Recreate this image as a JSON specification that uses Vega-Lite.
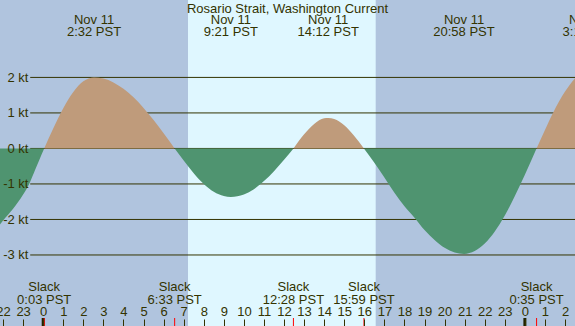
{
  "$schema": "https://vega.github.io/schema/vega-lite/v6.json",
  "width": 575,
  "height": 326,
  "autosize": "none",
  "padding": 0,
  "background": "#b0c4de",
  "title": {"text": "Rosario Strait, Washington Current", "font": "Liberation Sans", "fontSize": 13, "fontWeight": "normal", "color": "#333300", "offset": -16, "anchor": "middle", "frame": "group"},
  "config": {"view": {"fill": "#b0c4de", "stroke": null}, "axis": {"labelOverlap": false, "labelBound": false}},
  "datasets": {
    "curve": [
      {"t": -2.3, "v": -2.25, "seg": "a", "dir": "ebb"},
      {"t": -2.0, "v": -2.03, "seg": "a", "dir": "ebb"},
      {"t": -1.5, "v": -1.7, "seg": "a", "dir": "ebb"},
      {"t": -1.0, "v": -1.3, "seg": "a", "dir": "ebb"},
      {"t": -0.7, "v": -1.0, "seg": "a", "dir": "ebb"},
      {"t": -0.4, "v": -0.6, "seg": "a", "dir": "ebb"},
      {"t": -0.2, "v": -0.33, "seg": "a", "dir": "ebb"},
      {"t": 0.05, "v": 0, "seg": "a", "dir": "ebb"},
      {"t": 0.05, "v": 0, "seg": "b", "dir": "flood"},
      {"t": 0.5, "v": 0.56, "seg": "b", "dir": "flood"},
      {"t": 1.0, "v": 1.13, "seg": "b", "dir": "flood"},
      {"t": 1.5, "v": 1.59, "seg": "b", "dir": "flood"},
      {"t": 2.0, "v": 1.89, "seg": "b", "dir": "flood"},
      {"t": 2.53, "v": 2.0, "seg": "b", "dir": "flood"},
      {"t": 3.0, "v": 1.97, "seg": "b", "dir": "flood"},
      {"t": 3.5, "v": 1.86, "seg": "b", "dir": "flood"},
      {"t": 4.0, "v": 1.68, "seg": "b", "dir": "flood"},
      {"t": 4.5, "v": 1.44, "seg": "b", "dir": "flood"},
      {"t": 5.0, "v": 1.14, "seg": "b", "dir": "flood"},
      {"t": 5.5, "v": 0.8, "seg": "b", "dir": "flood"},
      {"t": 6.0, "v": 0.43, "seg": "b", "dir": "flood"},
      {"t": 6.55, "v": 0, "seg": "b", "dir": "flood"},
      {"t": 6.55, "v": 0, "seg": "c", "dir": "ebb"},
      {"t": 7.0, "v": -0.34, "seg": "c", "dir": "ebb"},
      {"t": 7.5, "v": -0.7, "seg": "c", "dir": "ebb"},
      {"t": 8.0, "v": -1.0, "seg": "c", "dir": "ebb"},
      {"t": 8.5, "v": -1.22, "seg": "c", "dir": "ebb"},
      {"t": 9.0, "v": -1.34, "seg": "c", "dir": "ebb"},
      {"t": 9.35, "v": -1.37, "seg": "c", "dir": "ebb"},
      {"t": 10.0, "v": -1.3, "seg": "c", "dir": "ebb"},
      {"t": 10.5, "v": -1.15, "seg": "c", "dir": "ebb"},
      {"t": 11.0, "v": -0.92, "seg": "c", "dir": "ebb"},
      {"t": 11.5, "v": -0.64, "seg": "c", "dir": "ebb"},
      {"t": 12.0, "v": -0.32, "seg": "c", "dir": "ebb"},
      {"t": 12.47, "v": 0, "seg": "c", "dir": "ebb"},
      {"t": 12.47, "v": 0, "seg": "d", "dir": "flood"},
      {"t": 13.0, "v": 0.4, "seg": "d", "dir": "flood"},
      {"t": 13.5, "v": 0.69, "seg": "d", "dir": "flood"},
      {"t": 14.0, "v": 0.85, "seg": "d", "dir": "flood"},
      {"t": 14.2, "v": 0.86, "seg": "d", "dir": "flood"},
      {"t": 14.5, "v": 0.83, "seg": "d", "dir": "flood"},
      {"t": 15.0, "v": 0.65, "seg": "d", "dir": "flood"},
      {"t": 15.5, "v": 0.35, "seg": "d", "dir": "flood"},
      {"t": 15.98, "v": 0, "seg": "d", "dir": "flood"},
      {"t": 15.98, "v": 0, "seg": "e", "dir": "ebb"},
      {"t": 16.5, "v": -0.4, "seg": "e", "dir": "ebb"},
      {"t": 17.0, "v": -0.82, "seg": "e", "dir": "ebb"},
      {"t": 17.5, "v": -1.25, "seg": "e", "dir": "ebb"},
      {"t": 18.0, "v": -1.63, "seg": "e", "dir": "ebb"},
      {"t": 18.5, "v": -1.95, "seg": "e", "dir": "ebb"},
      {"t": 19.0, "v": -2.3, "seg": "e", "dir": "ebb"},
      {"t": 19.5, "v": -2.58, "seg": "e", "dir": "ebb"},
      {"t": 20.0, "v": -2.8, "seg": "e", "dir": "ebb"},
      {"t": 20.5, "v": -2.93, "seg": "e", "dir": "ebb"},
      {"t": 20.97, "v": -2.97, "seg": "e", "dir": "ebb"},
      {"t": 21.5, "v": -2.89, "seg": "e", "dir": "ebb"},
      {"t": 22.0, "v": -2.68, "seg": "e", "dir": "ebb"},
      {"t": 22.5, "v": -2.34, "seg": "e", "dir": "ebb"},
      {"t": 23.0, "v": -1.89, "seg": "e", "dir": "ebb"},
      {"t": 23.5, "v": -1.34, "seg": "e", "dir": "ebb"},
      {"t": 24.0, "v": -0.74, "seg": "e", "dir": "ebb"},
      {"t": 24.58, "v": 0, "seg": "e", "dir": "ebb"},
      {"t": 24.58, "v": 0, "seg": "f", "dir": "flood"},
      {"t": 25.0, "v": 0.52, "seg": "f", "dir": "flood"},
      {"t": 25.4, "v": 1.0, "seg": "f", "dir": "flood"},
      {"t": 26.0, "v": 1.6, "seg": "f", "dir": "flood"},
      {"t": 26.6, "v": 2.05, "seg": "f", "dir": "flood"}
    ],
    "events": [
      {"t": 2.533, "kind": "max", "date": "Nov 11", "time": "2:32 PST"},
      {"t": 9.35, "kind": "max", "date": "Nov 11", "time": "9:21 PST"},
      {"t": 14.2, "kind": "max", "date": "Nov 11", "time": "14:12 PST"},
      {"t": 20.967, "kind": "max", "date": "Nov 11", "time": "20:58 PST"},
      {"t": 27.23, "kind": "max", "date": "Nov 12", "time": "3:14 PST"},
      {"t": 0.05, "kind": "slack", "date": "Slack", "time": "0:03 PST"},
      {"t": 6.55, "kind": "slack", "date": "Slack", "time": "6:33 PST"},
      {"t": 12.467, "kind": "slack", "date": "Slack", "time": "12:28 PST"},
      {"t": 15.983, "kind": "slack", "date": "Slack", "time": "15:59 PST"},
      {"t": 24.583, "kind": "slack", "date": "Slack", "time": "0:35 PST"}
    ],
    "grid": [{"v": -3}, {"v": -2}, {"v": -1}, {"v": 0}, {"v": 1}, {"v": 2}],
    "band": [{"t": 7.215, "end": 16.567}],
    "midnight": [{"t": 0}, {"t": 24}]
  },
  "layer": [
    {
      "data": {"name": "band"},
      "mark": {"type": "rect", "color": "#dff7ff"},
      "encoding": {
        "x": {"field": "t", "type": "quantitative", "scale": {"domain": [-2.152, 26.497], "nice": false, "zero": false}, "axis": {"values": [-2, -1, 0, 1, 2, 3, 4, 5, 6, 7, 8, 9, 10, 11, 12, 13, 14, 15, 16, 17, 18, 19, 20, 21, 22, 23, 24, 25, 26], "labelExpr": "(datum.value + 24) % 24", "orient": "bottom", "domain": false, "grid": false, "title": null, "tickSize": -7, "tickColor": "#333300", "labelPadding": -4, "labelBaseline": "alphabetic", "labelFont": "Liberation Sans", "labelFontSize": 13, "labelColor": "#333300", "labelOverlap": false, "labelFlush": false, "labelBound": false, "zindex": 1}},
        "x2": {"field": "end"}
      }
    },
    {
      "data": {"name": "grid"},
      "mark": {"type": "rule", "color": "#333300", "strokeWidth": 1},
      "encoding": {
        "y": {"field": "v", "type": "quantitative", "scale": {"domain": [-5, 4.18], "nice": false, "zero": false}, "axis": {"values": [-3, -2, -1, 0, 1, 2], "labelExpr": "datum.value + ' kt'", "orient": "left", "offset": -30, "domain": false, "ticks": false, "grid": false, "title": null, "labelPadding": 2, "labelFont": "Liberation Sans", "labelFontSize": 13, "labelColor": "#333300", "zindex": 1}},
        "x": {"datum": -0.647, "type": "quantitative", "axis": {"values": [-2, -1, 0, 1, 2, 3, 4, 5, 6, 7, 8, 9, 10, 11, 12, 13, 14, 15, 16, 17, 18, 19, 20, 21, 22, 23, 24, 25, 26], "labelExpr": "(datum.value + 24) % 24", "orient": "bottom", "domain": false, "grid": false, "title": null, "tickSize": -7, "tickColor": "#333300", "labelPadding": -4, "labelBaseline": "alphabetic", "labelFont": "Liberation Sans", "labelFontSize": 13, "labelColor": "#333300", "labelOverlap": false, "labelFlush": false, "labelBound": false, "zindex": 1}},
        "x2": {"datum": 26.6}
      }
    },
    {
      "encoding": {
        "x": {"field": "t", "type": "quantitative", "axis": {"values": [-2, -1, 0, 1, 2, 3, 4, 5, 6, 7, 8, 9, 10, 11, 12, 13, 14, 15, 16, 17, 18, 19, 20, 21, 22, 23, 24, 25, 26], "labelExpr": "(datum.value + 24) % 24", "orient": "bottom", "domain": false, "grid": false, "title": null, "tickSize": -7, "tickColor": "#333300", "labelPadding": -4, "labelBaseline": "alphabetic", "labelFont": "Liberation Sans", "labelFontSize": 13, "labelColor": "#333300", "labelOverlap": false, "labelFlush": false, "labelBound": false, "zindex": 1}}
      },
      "layer": [
        {
          "data": {"name": "curve"},
          "mark": {"type": "area", "interpolate": "monotone"},
          "encoding": {
            "y": {"field": "v", "type": "quantitative"},
            "y2": {"datum": 0},
            "color": {"field": "dir", "type": "nominal", "scale": {"domain": ["flood", "ebb"], "range": ["#bf9b7b", "#4f9470"]}, "legend": null},
            "detail": {"field": "seg"}
          }
        },
        {
          "data": {"name": "events"},
          "transform": [{"filter": "datum.kind == 'max'"}],
          "mark": {"type": "text", "font": "Liberation Sans", "fontSize": 13, "color": "#333300", "baseline": "alphabetic", "align": "center"},
          "encoding": {"y": {"datum": 3.504}, "text": {"field": "date"}}
        },
        {
          "data": {"name": "events"},
          "transform": [{"filter": "datum.kind == 'max'"}],
          "mark": {"type": "text", "font": "Liberation Sans", "fontSize": 13, "color": "#333300", "baseline": "alphabetic", "align": "center"},
          "encoding": {"y": {"datum": 3.166}, "text": {"field": "time"}}
        },
        {
          "data": {"name": "events"},
          "transform": [{"filter": "datum.kind == 'slack'"}],
          "mark": {"type": "text", "font": "Liberation Sans", "fontSize": 13, "color": "#333300", "baseline": "alphabetic", "align": "center"},
          "encoding": {"y": {"datum": -4.023}, "text": {"field": "date"}}
        },
        {
          "data": {"name": "events"},
          "transform": [{"filter": "datum.kind == 'slack'"}],
          "mark": {"type": "text", "font": "Liberation Sans", "fontSize": 13, "color": "#333300", "baseline": "alphabetic", "align": "center"},
          "encoding": {"y": {"datum": -4.389}, "text": {"field": "time"}}
        },
        {
          "data": {"name": "midnight"},
          "mark": {"type": "rule", "color": "#222200", "strokeWidth": 3},
          "encoding": {"y": {"datum": -4.775}, "y2": {"datum": -5.05}}
        },
        {
          "data": {"name": "events"},
          "transform": [{"filter": "datum.kind == 'slack'"}],
          "mark": {"type": "rule", "color": "#ff0000", "strokeWidth": 1},
          "encoding": {"y": {"datum": -4.775}, "y2": {"datum": -5.05}}
        }
      ]
    }
  ]
}
